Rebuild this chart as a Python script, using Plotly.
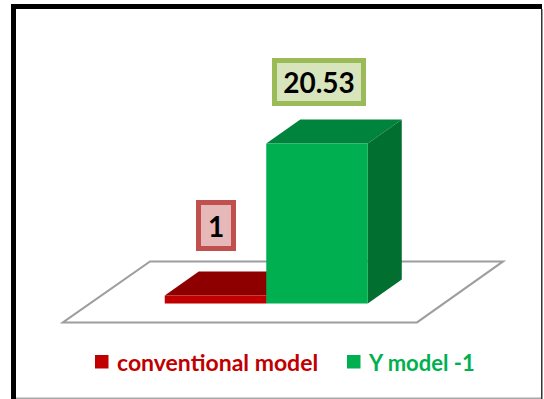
import plotly.graph_objects as go

# Series shown in the chart
series_names = ["conventional model", "Y model -1"]
series_values = [1, 20.53]
value_labels = ["1", "20.53"]

FRONT = ["#C00000", "#00B050"]
TOP = ["#8E0000", "#00843D"]
SIDE = ["#6E0000", "#006F30"]
LABEL_FILL = ["#E6B9B8", "#D8E4BC"]
LABEL_EDGE = ["#C0504D", "#9BBB59"]
LABEL_SHIFT = [(0, 70), (2, 62)]
LABEL_BOX = [(22, 33), (76, 30)]

# Oblique projection of the 3D depth, in axis units
DEPTH_X = 0.335
DEPTH_Y = 3.08
BAR_HALF = 0.5

X_RANGE = [-2.123, 3.236]
Y_RANGE = [-12.28, 38.96]

fig = go.Figure()

# Top and side faces sit on the base axes, front faces on the overlaying pair,
# so a front face always covers whatever stands behind it.
for i, v in enumerate(series_values):
    l, r = i - BAR_HALF, i + BAR_HALF
    fig.add_trace(go.Scatter(
        x=[l, l + DEPTH_X, r + DEPTH_X, r, l],
        y=[v, v + DEPTH_Y, v + DEPTH_Y, v, v],
        mode="lines", fill="toself", fillcolor=TOP[i],
        line=dict(width=0), hoverinfo="skip", showlegend=False,
    ))
    fig.add_trace(go.Scatter(
        x=[r, r + DEPTH_X, r + DEPTH_X, r, r],
        y=[v, v + DEPTH_Y, DEPTH_Y, 0, v],
        mode="lines", fill="toself", fillcolor=SIDE[i],
        line=dict(width=0), hoverinfo="skip", showlegend=False,
    ))

for i, v in enumerate(series_values):
    fig.add_trace(go.Bar(
        x=[i], y=[v], width=[2 * BAR_HALF], name=series_names[i],
        marker=dict(color=FRONT[i], line=dict(width=0)),
        xaxis="x2", yaxis="y2", showlegend=False,
    ))

# Floor of the chart, drawn beneath every bar
floor_x = [-1.503, -0.645, 2.833, 1.985]
floor_y = [-2.44, 5.39, 5.39, -2.44]
floor_path = "M " + " L ".join(f"{a} {b}" for a, b in zip(floor_x, floor_y)) + " Z"

shapes = [
    dict(type="path", path=floor_path, xref="x", yref="y", layer="below",
         line=dict(color="#9E9E9E", width=2), fillcolor="#FFFFFF"),
]

# Outer frame around the chart
frame_parts = [
    (11, 4, 16, 399, "#000000"),
    (11, 4, 542, 9, "#000000"),
    (541, 9, 542.5, 399, "#333333"),
    (16, 397.5, 541, 399, "#A8A8A8"),
]
W, H = 544, 399
for x0, y0, x1, y1, c in frame_parts:
    shapes.append(dict(type="rect", xref="paper", yref="paper",
                       x0=x0 / W, x1=x1 / W, y0=1 - y0 / H, y1=1 - y1 / H,
                       line=dict(width=0), fillcolor=c))

# Legend swatches
swatches = [95, 347]
for i, sx in enumerate(swatches):
    shapes.append(dict(type="rect", xref="paper", yref="paper",
                       x0=sx / W, x1=(sx + 13.5) / W,
                       y0=1 - 355 / H, y1=1 - 368.5 / H,
                       line=dict(width=0), fillcolor=FRONT[i]))

annotations = []
for i, v in enumerate(series_values):
    annotations.append(dict(
        x=i, y=v, xref="x", yref="y", showarrow=False,
        xshift=LABEL_SHIFT[i][0], yshift=LABEL_SHIFT[i][1],
        width=LABEL_BOX[i][0], height=LABEL_BOX[i][1], align="center",
        text=value_labels[i], xanchor="center", yanchor="middle",
        font=dict(family="Lato", size=28, color="#000000", weight=700),
        bgcolor=LABEL_FILL[i], bordercolor=LABEL_EDGE[i], borderwidth=5,
        borderpad=4,
    ))

legend_text_x = [115, 366]
legend_text_size = [23, 22]
for i, tx in enumerate(legend_text_x):
    annotations.append(dict(
        x=tx / W, y=1 - 362 / H, xref="paper", yref="paper", showarrow=False,
        text=series_names[i], xanchor="left", yanchor="middle",
        font=dict(family="Lato", size=legend_text_size[i], color=FRONT[i], weight=700),
    ))

hidden = dict(visible=False, fixedrange=True)
fig.update_layout(
    width=W, height=H, margin=dict(l=0, r=0, t=0, b=0),
    paper_bgcolor="#FFFFFF", plot_bgcolor="#FFFFFF",
    showlegend=False, barmode="overlay",
    xaxis=dict(range=X_RANGE, **hidden),
    yaxis=dict(range=Y_RANGE, **hidden),
    xaxis2=dict(range=X_RANGE, overlaying="x", **hidden),
    yaxis2=dict(range=Y_RANGE, overlaying="y", **hidden),
    shapes=shapes, annotations=annotations,
)

fig.write_html("out.html", config=dict(displayModeBar=False))
